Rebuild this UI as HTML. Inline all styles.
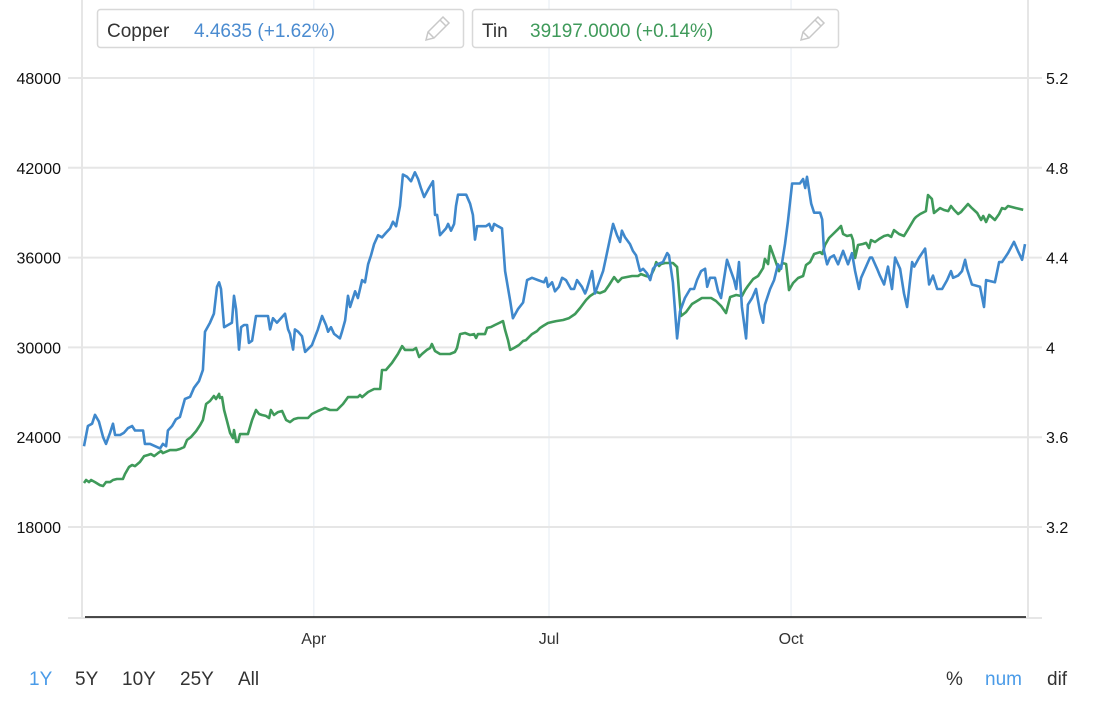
<!DOCTYPE html>
<html><head><meta charset="utf-8"><style>
body{margin:0;background:#fff;font-family:"Liberation Sans",Arial,sans-serif}
svg text{font-family:"Liberation Sans",Arial,sans-serif}
</style></head><body>
<svg id="chart" width="1108" height="700" xmlns="http://www.w3.org/2000/svg">
<g id="grid"></g>
<g id="axes"></g>
<g id="series"></g>
<g>
<rect x="97.5" y="9.5" width="366" height="38" rx="3" fill="#fff" stroke="#d8d8d8" stroke-width="1.5"/>
<text x="107" y="37" font-size="19" fill="#333">Copper</text>
<text x="194" y="37" font-size="19" fill="#4a8bd0">4.4635 (+1.62%)</text>
<g stroke="#c8c8c8" stroke-width="1.5" fill="none"><path d="M426 40 L428 32 L443 17 L449 23 L434 38 Z M428 32 L434 38 M440 20 L446 26"/></g>
</g>
<g>
<rect x="472.5" y="9.5" width="366" height="38" rx="3" fill="#fff" stroke="#d8d8d8" stroke-width="1.5"/>
<text x="482" y="37" font-size="19" fill="#333">Tin</text>
<text x="530" y="37" font-size="19" fill="#3f9a5a">39197.0000 (+0.14%)</text>
<g stroke="#c8c8c8" stroke-width="1.5" fill="none"><path d="M801 40 L803 32 L818 17 L824 23 L809 38 Z M803 32 L809 38 M815 20 L821 26"/></g>
</g>
<g font-size="19">
<text x="29" y="685" fill="#4a9be8">1Y</text>
<text x="75" y="685" fill="#333">5Y</text>
<text x="122" y="685" fill="#333">10Y</text>
<text x="180" y="685" fill="#333">25Y</text>
<text x="238" y="685" fill="#333">All</text>
</g>
<g font-size="19">
<text x="946" y="685" fill="#333">%</text>
<text x="985" y="685" fill="#4a9be8">num</text>
<text x="1047" y="685" fill="#333">dif</text>
</g>
</svg>
<script>
const leftTicks=[48000,42000,36000,30000,24000,18000];
const rightTicks=["5.2","4.8","4.4","4","3.6","3.2"];
const monthLabels=["Apr","Jul","Oct"];
const monthDays=[87.9,177.9,270.5];
const copperDays=[0,1.5,3.1,4.2,5.7,7.3,8.4,10,11.1,11.9,13.8,15.3,16.8,18.4,19.5,21.4,22.6,23.3,24.5,25.3,27.2,29.1,30.2,31.4,32.1,33.7,35.2,36.7,38.6,40.6,42.1,44,45.5,46.3,48.2,49.7,50.9,51.7,52.4,53.6,55.1,56.6,57.4,58.2,59.3,60.1,61.2,62.4,63.1,64.3,65.8,70.4,71.2,72.3,73.8,76.9,78.1,78.8,80,80.7,81.9,83.4,84.6,87.2,89.5,91.1,92.6,93.4,94.5,95.7,97.9,98.7,99.9,101,101.8,103.7,104.8,106.4,107.5,108.7,109.8,111,112.5,114,115.5,117.1,118.2,119.4,120.9,122,123.6,125.1,126.6,127.8,128.9,130.1,132,133.5,134.3,135.1,136.2,138.5,139.3,140.4,141.6,142.3,143.1,146.2,147.7,148.8,149.6,150.4,153.8,155,156.1,156.9,158.4,159.9,161.1,163,164.1,166,168,169.5,171.4,173.7,176,176.8,177.5,179.1,180.2,181.7,182.9,184.4,186.3,187.5,188.6,190.5,191.7,192.4,194.4,195.5,196.7,198.6,199.7,202.4,203.9,205.1,205.8,207,208.9,210,211.2,212.7,213.9,215.4,216.6,217.7,219.2,221.5,223.1,223.8,225.3,226.9,228,229.9,231.9,233.4,234.5,236.1,237.6,238.4,239.5,241.4,242.6,243.7,246,248.7,249.5,250.6,251.7,253.3,254,255.6,257.1,258.6,259.8,260.5,262.5,264,265.5,266.7,268.2,269.3,270.9,273.9,275.1,275.9,276.6,278.2,279.3,281.6,282.4,283.1,284.3,285.4,286.9,288.5,290.4,292.3,293.8,295,296.5,297.3,300.7,301.5,303.4,304.5,306.1,307.6,309.1,310.3,312.2,313.7,314.9,316.8,317.6,319.5,321.8,323.3,324.8,326.4,328.3,330.2,331.7,332.5,334.4,335.9,337.1,337.8,339.7,342.8,344.3,345.1,348.5,350.1,351.2,353.5,355.8,357.3,358.9,360];
const copperVals=[3.56,3.65,3.66,3.70,3.67,3.60,3.57,3.62,3.66,3.61,3.61,3.62,3.64,3.65,3.63,3.63,3.63,3.57,3.57,3.57,3.56,3.55,3.57,3.56,3.63,3.65,3.68,3.69,3.77,3.78,3.82,3.85,3.90,4.07,4.11,4.15,4.27,4.29,4.26,4.09,4.10,4.11,4.23,4.17,3.99,4.09,4.10,4.10,4.02,4.03,4.14,4.14,4.08,4.13,4.11,4.15,4.08,4.06,3.99,4.08,4.07,4.05,3.98,4.01,4.08,4.14,4.10,4.07,4.09,4.06,4.04,4.07,4.12,4.23,4.18,4.25,4.22,4.30,4.29,4.37,4.41,4.46,4.50,4.49,4.51,4.53,4.56,4.54,4.63,4.77,4.76,4.74,4.78,4.75,4.71,4.67,4.71,4.74,4.59,4.59,4.50,4.53,4.55,4.52,4.55,4.63,4.68,4.68,4.64,4.59,4.48,4.54,4.54,4.55,4.52,4.55,4.54,4.53,4.34,4.21,4.13,4.17,4.20,4.30,4.31,4.30,4.29,4.31,4.27,4.29,4.25,4.27,4.31,4.30,4.26,4.26,4.30,4.27,4.24,4.26,4.34,4.24,4.28,4.34,4.40,4.55,4.50,4.47,4.52,4.49,4.46,4.43,4.41,4.34,4.35,4.33,4.30,4.35,4.37,4.38,4.42,4.41,4.29,4.04,4.16,4.22,4.26,4.26,4.30,4.34,4.35,4.27,4.31,4.31,4.25,4.22,4.39,4.30,4.26,4.38,4.18,4.04,4.19,4.22,4.26,4.16,4.11,4.19,4.26,4.30,4.37,4.35,4.46,4.56,4.73,4.73,4.75,4.71,4.76,4.64,4.60,4.60,4.57,4.43,4.37,4.40,4.41,4.37,4.43,4.37,4.42,4.34,4.26,4.31,4.40,4.40,4.35,4.32,4.28,4.36,4.26,4.40,4.35,4.24,4.18,4.38,4.36,4.40,4.44,4.28,4.32,4.26,4.26,4.30,4.34,4.31,4.32,4.34,4.39,4.35,4.28,4.27,4.18,4.30,4.29,4.38,4.38,4.42,4.47,4.43,4.39,4.46];
const tinDays=[0,0.8,1.9,2.7,4.2,6.1,7.3,8.4,10,11.1,12.6,14.9,15.7,17.2,18.4,19.5,21.4,23,24.5,25.6,26.8,28.3,29.5,30.2,32.9,35.2,36.7,38.3,39.4,40.9,42.9,44.4,45.5,46.7,48.2,49.7,50.5,51.7,52,52.8,53.6,54.7,55.9,57,57.4,58.2,58.9,59.7,60.8,62.7,64.3,65.8,67,68.1,69.6,70.8,71.5,72.7,74.2,75.8,77.3,78.8,80.3,81.9,85.7,87.2,89.5,92.2,94.1,96.8,99.1,101,104.8,105.6,106.4,108.7,111,113.3,114,115.5,117.8,120.1,121.7,122.8,125.9,127,128.2,129.3,131.2,132.4,133.1,134.3,136.2,140,141.9,142.7,143.9,145.8,147.7,149.2,150,150.7,153.4,154.2,155.7,157.2,158.8,160.3,161.1,162.2,163,164.5,166.4,168,169.1,171.4,173.3,174.5,175.6,177.5,179.1,180.6,183.3,185.6,187.9,189.8,192.1,193.6,195.9,197.4,199.3,200.9,202.8,204.3,205.8,209.7,212,213.1,215,216.6,218.1,218.9,220,220.8,222.3,225.3,226.9,227.6,228.4,230.3,232.6,234.5,236.4,239.9,241.8,243.7,245.6,247.2,249.5,251.7,252.9,254,256,257.9,259.8,260.5,261.7,262.5,264.4,265.9,267.1,268.6,269.7,271.3,273.2,275.1,276.2,277.8,279.3,281.6,282.4,283.5,285,286.6,288.1,289.6,290.4,291.9,293.5,294.2,295,296.1,298,299.2,300.3,301.1,302.6,304.2,306.1,307.6,308.8,309.9,311.8,313.7,315.6,317.6,318.3,319.9,322.1,322.9,324.4,325.2,327.5,329,330.6,331.7,332.9,334.4,335.5,338.2,339.7,341.7,343.2,344,345.1,346.3,348.5,350.1,351.2,352.4,353.5,356.6,359.3];
const tinVals=[20940,21140,21000,21140,21000,20800,20740,21000,21000,21140,21210,21210,21540,22010,22140,22070,22340,22740,22810,22880,22740,22940,23080,22940,23140,23140,23210,23340,23810,24010,24410,24810,25150,26220,26420,26750,26550,26890,26620,26680,25820,25080,24280,23940,24480,23680,23680,24210,24210,24210,25150,25820,25550,25480,25420,25280,25820,25480,25680,25750,25150,25010,25210,25280,25280,25550,25750,25950,25820,25820,26220,26680,26680,26820,26680,27020,27220,27220,28490,28490,28960,29560,30090,29830,29830,29960,29360,29560,29830,29960,30230,29760,29560,29560,29690,29960,30890,30960,30830,30890,30630,30890,30890,31300,31360,31500,31630,31760,31160,30490,29830,29960,30160,30430,30490,30890,31090,31300,31430,31630,31700,31760,31830,31960,32230,32630,33170,33430,33700,33630,33770,34170,34700,34370,34640,34770,34770,34900,34770,34700,35240,35700,35440,35570,35640,35640,35370,33830,32100,32360,32900,33100,33300,33300,33100,32770,32300,33370,33500,33430,33830,34100,34570,34770,35300,35910,35570,36770,35840,35100,35640,35570,33830,34300,34640,34770,35500,35700,36240,36370,36240,36840,37310,37580,37840,38110,37580,37440,37510,37170,35970,36840,36910,36980,36640,37170,37040,37240,37440,37510,37380,37840,37580,37440,37980,38580,38710,38910,39110,40180,39920,38980,39310,39180,39110,39450,39180,38910,39050,39580,39310,38980,38510,38780,38380,38850,38510,38910,39310,39250,39450,39310,39197];

const NS="http://www.w3.org/2000/svg";
const X0=84,X1=1025,D1=360,Y48=78,Y18=527;
function xScale(d){return X0+(d/D1)*(X1-X0);}
function yLeft(v){return Y48+(48000-v)/30000*(Y18-Y48);}
function yRight(v){return Y48+(5.2-v)/2.0*(Y18-Y48);}
function mk(tag,attrs,parent){const e=document.createElementNS(NS,tag);for(const k in attrs)e.setAttribute(k,attrs[k]);parent.appendChild(e);return e;}
const grid=document.getElementById('grid'),axes=document.getElementById('axes'),series=document.getElementById('series');
// month gridlines
monthDays.forEach((d,i)=>{
  const x=xScale(d);
  const l=mk('line',{x1:x,x2:x,y1:0,y2:617,stroke:'#eef2f7','stroke-width':1.5},grid);
  
  
  const t=mk('text',{x:x,y:644,'text-anchor':'middle','font-size':16,fill:'#333'},axes);
  t.textContent=monthLabels[i];
  
  
});
// plot edges
const le=mk('line',{x1:82,x2:82,y1:0,y2:619,stroke:'#e6e6e6','stroke-width':2},grid);


const re=mk('line',{x1:1028,x2:1028,y1:0,y2:619,stroke:'#e6e6e6','stroke-width':2},grid);


leftTicks.forEach((v,i)=>{
  const y=yLeft(v);
  const g=mk('line',{x1:68,x2:1042,y1:y,y2:y,stroke:'#e6e6e6','stroke-width':2},grid);
  
  
  const t=mk('text',{x:61,y:y+6,'text-anchor':'end','font-size':16,fill:'#111'},axes);
  t.textContent=v;
  
  
  const r=mk('text',{x:1046,y:y+6,'font-size':16,fill:'#111'},axes);
  r.textContent=rightTicks[i];
  
  
});
const bg=mk('line',{x1:68,x2:1042,y1:618,y2:618,stroke:'#e6e6e6','stroke-width':2},grid);


const bl=mk('line',{x1:85,x2:1026,y1:617,y2:617,stroke:'#111','stroke-width':1.5},axes);


function path(days,vals,ys){return days.map((d,i)=>(i?'L':'M')+xScale(d).toFixed(1)+' '+ys(vals[i]).toFixed(1)).join(' ');}
const tp=mk('path',{d:path(tinDays,tinVals,yLeft),fill:'none',stroke:'#3f9a5a','stroke-width':2.6,'stroke-linejoin':'round'},series);


const cp=mk('path',{d:path(copperDays,copperVals,yRight),fill:'none',stroke:'#3f88cc','stroke-width':2.6,'stroke-linejoin':'round'},series);


</script>
</body></html>
